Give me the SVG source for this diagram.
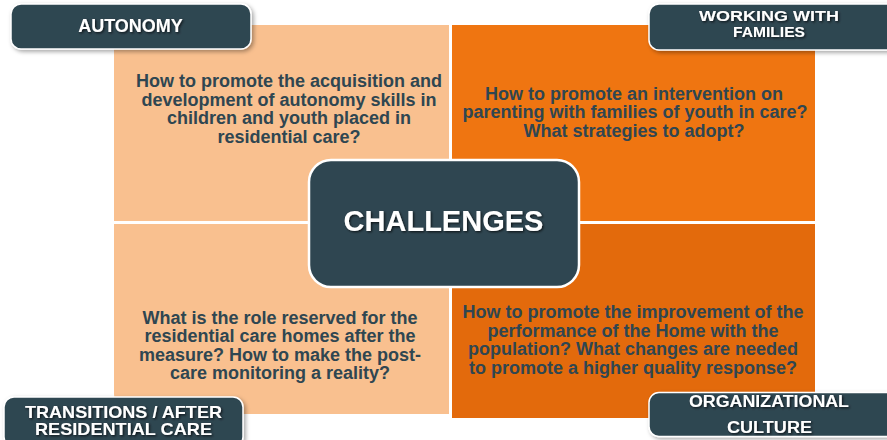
<svg xmlns="http://www.w3.org/2000/svg" width="887" height="440" viewBox="0 0 887 440">
<defs>
<filter id="boxShadow" x="-10%" y="-20%" width="130%" height="150%">
<feDropShadow dx="2" dy="2" stdDeviation="2" flood-color="#000" flood-opacity="0.35"/>
</filter>
<filter id="txtShadow" x="-10%" y="-30%" width="120%" height="160%">
<feDropShadow dx="1.2" dy="1.2" stdDeviation="0.8" flood-color="#000" flood-opacity="0.7"/>
</filter>
</defs>
<style>
.q{font-family:"Liberation Sans",Arial,sans-serif;font-weight:bold;font-size:18px;fill:#2F4651;text-anchor:middle}
.lbl{fill:#2F4651;stroke:#ffffff;stroke-width:1.5}
.lt{font-family:"Liberation Sans",Arial,sans-serif;font-weight:bold;fill:#ffffff;text-anchor:middle}
</style>
<rect width="887" height="440" fill="#ffffff"/>
<g id="q-autonomy">
<path d="M134,25 H449 V221 H114 V45 A20,20 0 0 1 134,25 Z" fill="#F9C08F"/>
<text class="q" x="289" y="87">How to promote the acquisition and</text>
<text class="q" x="289" y="105.5">development of autonomy skills in</text>
<text class="q" x="289" y="124">children and  youth placed in</text>
<text class="q" x="289" y="142.5">residential care?</text>
</g>
<g id="q-families">
<path d="M452,25 H795 A20,20 0 0 1 815,45 V221 H452 Z" fill="#EF7511"/>
<text class="q" x="634" y="99.5">How to promote an intervention on</text>
<text class="q" x="635" y="118">parenting with families of youth in  care?</text>
<text class="q" x="634" y="136.5">What strategies to adopt?</text>
</g>
<g id="q-transitions">
<path d="M114,224 H449 V414 H134 A20,20 0 0 1 114,394 Z" fill="#F9C08F"/>
<text class="q" x="280" y="323.5">What is the role reserved for the</text>
<text class="q" x="280" y="342">residential care homes after the</text>
<text class="q" x="280" y="360.5">measure? How to make the post-</text>
<text class="q" x="280" y="379">care monitoring a reality?</text>
</g>
<g id="q-culture">
<path d="M452,224 H815 V398 A20,20 0 0 1 795,418 H452 Z" fill="#E36A0C"/>
<text class="q" x="633" y="318">How to promote the improvement of the</text>
<text class="q" x="633" y="336.5">performance of the Home with the</text>
<text class="q" x="633" y="355">population? What changes are needed</text>
<text class="q" x="633" y="373.5">to promote a higher quality response?</text>
</g>
<g id="center">
<rect x="309" y="160" width="270" height="127" rx="22" ry="22" fill="#2F4651" stroke="#ffffff" stroke-width="2.5"/>
<text class="lt" x="443.5" y="231" font-size="29" filter="url(#txtShadow)">CHALLENGES</text>
</g>
<g id="label-autonomy" filter="url(#boxShadow)">
<rect class="lbl" x="11" y="4" width="240" height="45" rx="10" ry="10"/>
<text class="lt" x="130.5" y="32" font-size="18" filter="url(#txtShadow)">AUTONOMY</text>
</g>
<g id="label-families" filter="url(#boxShadow)">
<rect class="lbl" x="649" y="4" width="250" height="46" rx="10" ry="10"/>
<text class="lt" x="769" y="20.5" font-size="15" textLength="140" lengthAdjust="spacingAndGlyphs" filter="url(#txtShadow)">WORKING WITH</text>
<text class="lt" x="769" y="36.5" font-size="15" textLength="72" lengthAdjust="spacingAndGlyphs" filter="url(#txtShadow)">FAMILIES</text>
</g>
<g id="label-transitions" filter="url(#boxShadow)">
<rect class="lbl" x="4" y="397" width="239" height="50" rx="10" ry="10"/>
<text class="lt" x="123.5" y="417.5" font-size="17" textLength="197" lengthAdjust="spacingAndGlyphs" filter="url(#txtShadow)">TRANSITIONS / AFTER</text>
<text class="lt" x="123.5" y="435" font-size="17" textLength="177" lengthAdjust="spacingAndGlyphs" filter="url(#txtShadow)">RESIDENTIAL CARE</text>
</g>
<g id="label-culture" filter="url(#boxShadow)">
<rect class="lbl" x="649" y="392.5" width="250" height="44" rx="10" ry="10"/>
<text class="lt" x="769" y="407" font-size="16" textLength="160" lengthAdjust="spacingAndGlyphs" filter="url(#txtShadow)">ORGANIZATIONAL</text>
<text class="lt" x="769.5" y="433" font-size="16" textLength="85" lengthAdjust="spacingAndGlyphs" filter="url(#txtShadow)">CULTURE</text>
</g>
<g id="connectors"></g>
</svg>
